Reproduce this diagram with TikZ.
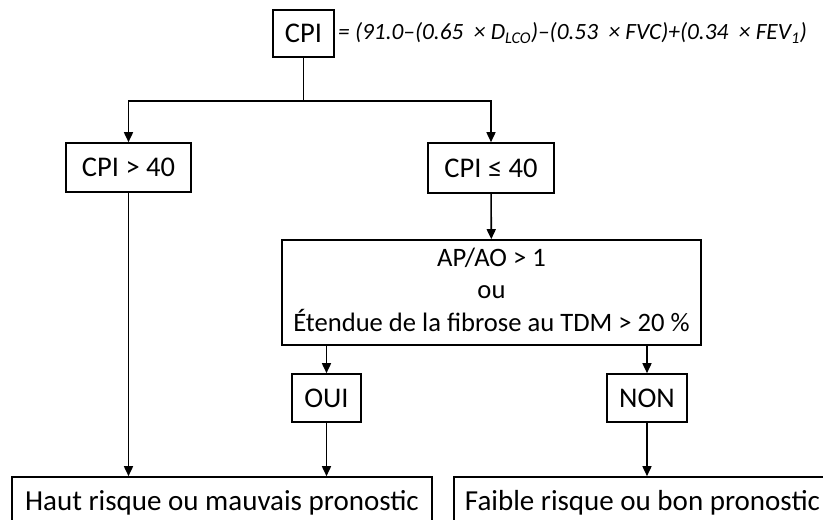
\documentclass[tikz,border=0pt]{standalone}
\usepackage{fontspec}
\setmainfont{Carlito}
\usetikzlibrary{arrows.meta}
\usetikzlibrary{positioning}
\tikzset{box/.style={draw,line width=1.6pt,inner sep=0pt,font=\fontsize{28.5}{32}\selectfont},
  link/.style={line width=1.6pt},
  arr/.style={link,-{Triangle[length=10pt,width=9pt]}},}

\begin{document}
\begin{tikzpicture}[x=1pt,y=-1pt]
   \useasboundingbox (0,0) rectangle (823,520);
   \clip (0,0) rectangle (823,520);
   \node[box,minimum width=61pt,minimum height=47pt] (cpi) at (303.5,33.5) {CPI};
   \node[anchor=west,inner sep=0pt,font=\fontsize{23.3}{26}\selectfont\itshape] (formula) at (338,33)
     {= (91.0–(0.65~~× D\textsubscript{LCO})–(0.53~~× FVC)+(0.34~~× FEV\textsubscript{1})};
   \node[box,minimum width=125pt,minimum height=49pt] (gt) at (128.5,167.5) {CPI > 40};
   \node[box,minimum width=126pt,minimum height=50pt] (le) at (491,168) {CPI ≤ 40};
   \node[box,minimum width=419pt,minimum height=105pt,align=center,
     font=\fontsize{26.6}{32}\selectfont] (crit) at (491.5,292.5)
     {AP/AO > 1\\[0.5pt]ou\\[0.5pt]Étendue de la fibrose au TDM > 20~\%\rule[-6pt]{0pt}{0pt}};
   \node[box,minimum width=69pt,minimum height=48pt] (oui) at (326.5,398) {OUI};
   \node[box,minimum width=80pt,minimum height=48pt] (non) at (647,398) {NON};
   \node[box,minimum width=420pt,minimum height=52pt,font=\fontsize{29}{34}\selectfont] (hi) at (222,503) {Haut risque ou mauvais pronostic};
   \node[box,minimum width=377pt,minimum height=52pt,font=\fontsize{29}{34}\selectfont] (lo) at (642.5,503) {Faible risque ou bon pronostic};
   \coordinate (split) at (cpi.south |- 0,101);

    \draw[link] (cpi) -- (split);
    \draw[arr] (split) -| (gt);
    \draw[arr] (split) -| (le);
    \draw[arr] (le) -- (crit);
    \draw[arr] (crit.south -| oui) -- (oui);
    \draw[arr] (crit.south -| non) -- (non);
    \draw[arr] (gt) -- (gt.south |- hi.north);
    \draw[arr] (oui) -- (oui.south |- hi.north);
    \draw[arr] (non) -- (non.south |- lo.north);
  \end{tikzpicture}
\end{document}
